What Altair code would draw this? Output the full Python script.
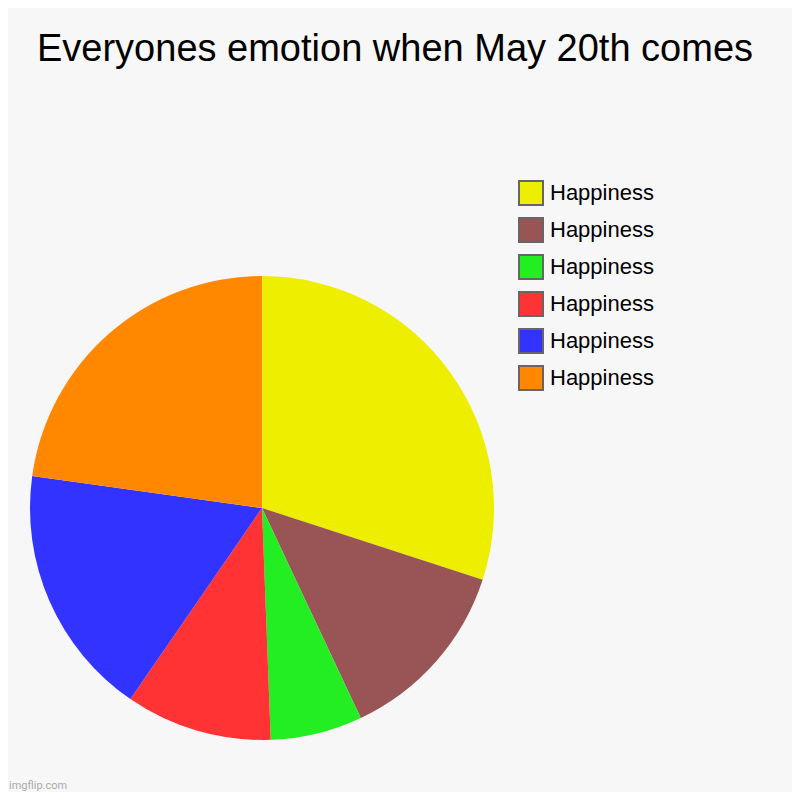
import altair as alt
import pandas as pd

title = "Everyones emotion when May 20th comes"
labels = ["Happiness", "Happiness", "Happiness", "Happiness", "Happiness", "Happiness"]
values = [30.0, 13.0, 6.4, 10.2, 17.6, 22.8]
colors = ["#eeee00", "#995555", "#22ee22", "#ff3333", "#3333ff", "#ff8800"]

keys = [f"{lab}|{i}" for i, lab in enumerate(labels)]
df = pd.DataFrame({"key": keys, "value": values, "order": list(range(len(values)))})

pie = alt.Chart(df).mark_arc(outerRadius=232, stroke=None).encode(
    theta=alt.Theta("value:Q", stack=True),
    order=alt.Order("order:Q"),
    color=alt.Color(
        "key:N",
        scale=alt.Scale(domain=keys, range=colors),
        sort=keys,
        legend=alt.Legend(
            title=None,
            orient="none",
            legendX=510,
            legendY=172,
            symbolType="square",
            symbolSize=576,
            symbolStrokeColor="#666666",
            symbolStrokeWidth=2,
            labelFontSize=22,
            labelFont="Liberation Sans",
            labelColor="#000000",
            labelExpr="split(datum.label, '|')[0]",
            rowPadding=5,
            labelOffset=6,
            labelLimit=300,
        ),
    ),
    x=alt.value(254),
    y=alt.value(500),
)

ttl = alt.Chart(pd.DataFrame({"t": [title]})).mark_text(
    align="center", baseline="alphabetic", fontSize=38, color="#000000",
    font="Liberation Sans"
).encode(text="t:N", x=alt.value(387), y=alt.value(53))

wm = alt.Chart(pd.DataFrame({"t": ["imgflip.com"]})).mark_text(
    align="left", baseline="alphabetic", fontSize=11, color="#aaaaaa", font="Roboto"
).encode(text="t:N", x=alt.value(1), y=alt.value(781))

chart = alt.layer(pie, ttl, wm).properties(
    width=784,
    height=784,
    padding=0,
    autosize=alt.AutoSizeParams(type="none"),
    background="#f7f7f7",
).configure_view(stroke=None)

chart.save("out.html", embed_options={"renderer": "svg", "actions": False})
